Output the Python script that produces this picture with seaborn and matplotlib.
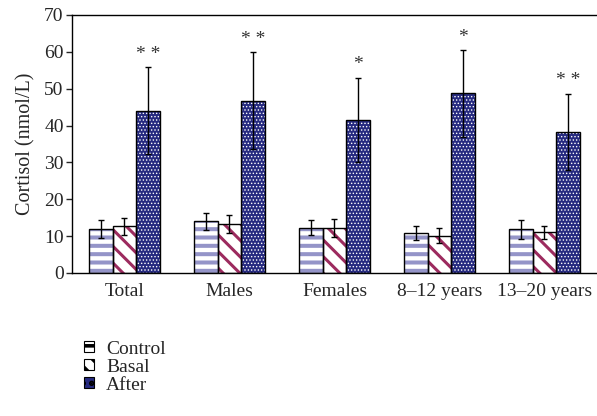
import numpy as np
import pandas as pd
import matplotlib
matplotlib.use("Agg")
import matplotlib.pyplot as plt
import seaborn as sns
from matplotlib.patches import Patch

# =========================
# Data
# =========================

groups = ["Total", "Males", "Females", "8\u201312 years", "13\u201320 years"]
series = ["Control", "Basal", "After"]

control = [11.9, 14.0, 12.3, 10.8, 11.8]
control_err = [2.5, 2.3, 2.0, 2.0, 2.5]
basal = [12.6, 13.3, 12.2, 10.1, 11.0]
basal_err = [2.4, 2.5, 2.5, 2.0, 1.8]
after = [44.0, 46.7, 41.5, 48.7, 38.3]
after_err = [11.8, 13.2, 11.5, 11.8, 10.3]
stars = ["* *", "* *", "*", "*", "* *"]

df = pd.DataFrame({
    "group": groups * 3,
    "series": ["Control"] * 5 + ["Basal"] * 5 + ["After"] * 5,
    "value": control + basal + after,
    "err": control_err + basal_err + after_err,
})

# =========================
# Style
# =========================

sns.set_style("white")
plt.rcParams["font.family"] = ["Liberation Serif", "DejaVu Serif"]
plt.rcParams["hatch.linewidth"] = 2.6

face = {"Control": "white", "Basal": "white", "After": "#262a80"}
hatch_col = {"Control": "#9494c8", "Basal": "#9c2b5f", "After": "white"}
hatches = {"Control": "--", "Basal": "\\\\", "After": "....."}
hatch_lw = {"Control": 2.9, "Basal": 2.2, "After": 0.6}

fig = plt.figure(figsize=(5.97, 4.16), dpi=100)
ax = fig.add_axes([0.1206, 0.344, 0.8794, 0.62])

# filled hatched bars
sns.barplot(data=df, x="group", y="value", hue="series", order=groups,
            hue_order=series, width=0.672, errorbar=None, legend=False,
            ax=ax, linewidth=0)
# outlines on top
sns.barplot(data=df, x="group", y="value", hue="series", order=groups,
            hue_order=series, width=0.672, errorbar=None, legend=False,
            ax=ax, fill=False, edgecolor="black", linewidth=1.0)

n = len(groups)
filled = ax.patches[:3 * n]
for i, p in enumerate(filled):
    s = series[i // n]
    p.set_facecolor(face[s])
    p.set_edgecolor(hatch_col[s])
    p.set_hatch(hatches[s])
    p.set_linewidth(0)
    try:
        p.set_hatch_linewidth(hatch_lw[s])
    except AttributeError:
        p._hatch_linewidth = hatch_lw[s]

# error bars, centred on the bars drawn by seaborn
outlines = ax.patches[3 * n:]
xs = [p.get_x() + p.get_width() / 2 for p in outlines]
ax.errorbar(xs, df["value"], yerr=df["err"], fmt="none", ecolor="black",
            elinewidth=1.0, capsize=2, capthick=1.0, zorder=5)

# significance stars above After bars
for i in range(n):
    x = xs[2 * n + i]
    top = after[i] + after_err[i]
    ax.text(x, top + 1.2, stars[i], ha="center", va="bottom", fontsize=14,
            color="#333333")

# =========================
# Axes
# =========================

ax.set_ylim(0, 70)
ax.set_xlim(-0.5, n - 0.5)
ax.set_yticks(range(0, 71, 10))
ax.set_xlabel("")
ax.set_ylabel("Cortisol (nmol/L)", fontsize=14.5, labelpad=6)
ax.tick_params(axis="y", direction="out", length=4, width=1, labelsize=14,
               left=True, pad=2)
ax.tick_params(axis="x", length=0, labelsize=14, pad=7)
for side in ["left", "bottom", "top"]:
    ax.spines[side].set_color("black")
    ax.spines[side].set_linewidth(1.0)
ax.spines["right"].set_visible(False)

# =========================
# Legend
# =========================

handles = []
for s in series:
    h = Patch(facecolor=face[s], edgecolor=hatch_col[s], hatch=hatches[s][:2],
              linewidth=0)
    handles.append(h)
leg = fig.legend(handles, series, loc="upper left",
                 bbox_to_anchor=(0.14, 0.181), frameon=False, fontsize=14,
                 handlelength=0.55, handleheight=0.5, handletextpad=0.6,
                 labelspacing=0.05, borderaxespad=0, borderpad=0)
for h in leg.legend_handles:
    h.set_edgecolor("black")
    h.set_linewidth(0.8)

fig.savefig("out.png", dpi=100)
